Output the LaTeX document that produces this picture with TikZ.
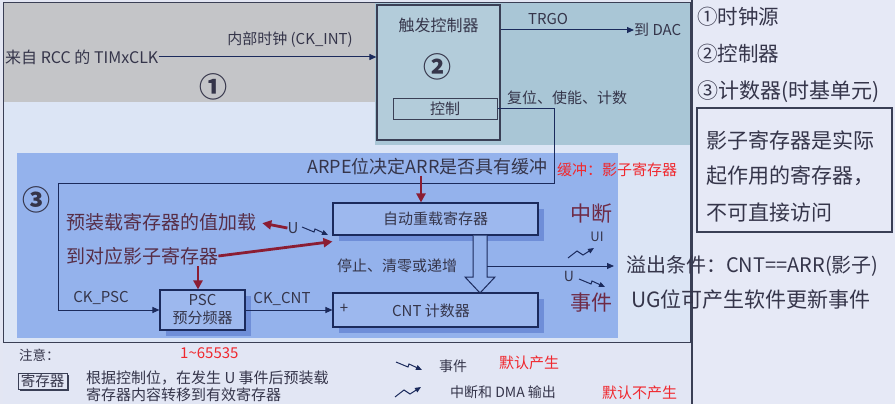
\documentclass[tikz,border=0pt]{standalone}
\usepackage{fontspec}
\setmainfont{Noto Sans CJK SC}
\usetikzlibrary{arrows.meta,shadows,calc}
\definecolor{bgc}{HTML}{E3E6F3}
\definecolor{rightbg}{HTML}{E6E9F6}
\definecolor{innerbg}{HTML}{DCE5F5}
\definecolor{grayband}{HTML}{C4C5C8}
\definecolor{tealc}{HTML}{A9C6D6}
\definecolor{trigfill}{HTML}{B3CCDA}
\definecolor{legendbg}{HTML}{E2E6F4}
\definecolor{panelc}{HTML}{94B2EC}
\definecolor{boxfill}{HTML}{9DB8EE}
\definecolor{shadowc}{HTML}{6F8ED8}
\definecolor{navy}{HTML}{1B2A5C}
\definecolor{txt}{HTML}{35354A}
\definecolor{maroon}{HTML}{8B1D33}
\definecolor{redt}{HTML}{F0282E}
\definecolor{brownt}{HTML}{6E2A45}
\definecolor{framec}{HTML}{3A3F55}
\newcommand\myfs[1]{\fontsize{#1}{#1}\selectfont}
\tikzset{
  lbl/.style={text=txt, inner sep=0pt, font=\myfs{#1}},
  lblw/.style={text=txt, inner sep=0pt, anchor=west, font=\myfs{#1}},
  redlbl/.style={text=redt, inner sep=0pt, anchor=west, font=\myfs{#1}},
  circnum/.style={text=txt, inner sep=0pt, font=\myfs{28}\bfseries},
  regbox/.style={draw=navy, line width=1.1pt, fill=boxfill, text=txt, font=\myfs{15},
     drop shadow={shadow xshift=6pt, shadow yshift=-6pt, fill=shadowc, opacity=1}},
  navyarrow/.style={draw=navy, line width=1pt, -{Triangle[length=7pt,width=6pt]}},
  redarrow/.style={draw=maroon, line width=2.8pt, -{Triangle[length=9pt,width=9pt]}},
  evsym/.pic={\draw[navy, line width=1pt, -{Triangle[length=6pt,width=5pt]}] (0,0) -- (12,5) -- (13,2) -- (26,8);},
  intsym/.pic={\draw[navy, line width=1pt, -{Triangle[length=6pt,width=5pt]}] (0,0) -- (9,-7) -- (15,-3) -- (26,-10);}
}
\begin{document}
\begin{tikzpicture}[x=1pt,y=-1pt]
\useasboundingbox (0,0) rectangle (895,404);
% backgrounds
\fill[bgc] (0,0) rectangle (895,404);
\fill[rightbg] (692,0) rectangle (895,404);
\fill[innerbg] (3,3) rectangle (690,342);
\fill[grayband] (3,3) rectangle (375,102);
\fill[tealc] (375,3) rectangle (690,145);
\fill[legendbg] (3,342) rectangle (692,404);
\draw[framec, line width=1pt] (3,3) rectangle (690,342);
\draw[framec, line width=1.6pt] (692,0) -- (692,404);
\fill[panelc] (17,153) rectangle (618,338);

% section 1
\node[lblw=16] (rcc) at (5,57) {来自 RCC 的 TIMxCLK};
\node[lbl=15] (ckint) at (290,40) {内部时钟 (CK\_INT)};
\node[circnum] (n1) at (213,87) {①};

% section 2
\node[draw=framec, line width=1.2pt, fill=trigfill, minimum width=123pt, minimum height=135pt, inner sep=0pt] (trig) at (438.5,72.5) {};
\node[lbl=16] (trigt) at (438.5,25) {触发控制器};
\node[circnum] (n2) at (437,67) {②};
\node[draw=framec, line width=1pt, minimum width=104pt, minimum height=20pt, inner sep=0pt, lbl=15] (ctrl) at (445,109) {控制};
\draw[navyarrow] (rcc.east) -- (rcc.east -| trig.west);
\coordinate (trgoy) at (0,30);
\node[lblw=15] (dac) at (634,30) {到 DAC};
\node[lbl=15] (trgo) at (548,19) {TRGO};
\draw[navyarrow] (trgoy -| trig.east) -- (dac.west);
\node[lblw=15] (rst) at (507,98) {复位、使能、计数};

% section 3
\node[circnum] (n3) at (37,200) {③};
\node[lbl=18] (arpe) at (427.5,167) {ARPE位决定ARR是否具有缓冲};
\node[redlbl=15] (buf) at (557,170) {缓冲：影子寄存器};
\node[regbox, minimum width=205pt, minimum height=32pt, inner sep=0pt] (arr) at (435.5,219) {自动重载寄存器};
\node[regbox, minimum width=205pt, minimum height=34pt, inner sep=0pt] (cnt) at (435.5,310) {};
\node[lbl=15] (plus) at (344,309) {+};
\node[lbl=15] (cntt) at (431,311) {CNT 计数器};
\node[regbox, minimum width=85pt, minimum height=40pt, inner sep=0pt, align=center, font=\fontsize{15}{18}\selectfont] (psc) at (202.5,310) {PSC\\预分频器};

\coordinate (c1) at (554,183);
\coordinate (c2) at (58,183);
\draw[navyarrow] (ctrl.east) -| (c1) -- (c2) |- (psc.west);
\node[lbl=15] (ckpsc) at (101,298) {CK\_PSC};
\draw[navyarrow] (psc.east) -- (psc.east -| cnt.west);
\node[lbl=15] (ckcnt) at (282,299) {CK\_CNT};

\node[lblw=19, text=brownt!60!txt] (pre1) at (66,222) {预装载寄存器的值加载};
\node[lblw=19, text=brownt!60!txt] (pre2) at (66,256) {到对应影子寄存器};
\node[lbl=15] (u1) at (293,228) {U};
\draw[redarrow, shorten >=6pt] (u1.west) -- (pre1.east);
\pic at (302,227) {evsym};
\draw[redarrow] (pre2.east) -- ($(arr.south west)+(0,6)$);
\coordinate (pd) at (198,266);
\draw[redarrow] (pd) -- (pd |- psc.north);
\coordinate (ad) at (421,0);
\draw[redarrow] (ad |- arpe.south) -- (ad |- arr.north);

% hollow double arrow
\coordinate (dl) at (473,0);
\coordinate (dr) at (487,0);
\draw[navy, line width=1pt, fill=panelc] (dl |- arr.south) -- (473,277) -- (465,277) -- (480,293) -- (495,277) -- (487,277) -- (dr |- arr.south);
\node[lbl=15] (stop) at (397,266) {停止、清零或递增};
\node[lblw=20] (ovf) at (626,266) {溢出条件：CNT==ARR(影子)};
\coordinate (ovs) at (487,266);
\draw[navyarrow, shorten >=12pt] (ovs) -- (ovf.west);
\node[lbl=21, text=brownt] (intr) at (591,214) {中断};
\node[lbl=13] (ui) at (597,237) {UI};
\pic at (568,258) {intsym};
\node[lbl=14] (u2) at (569,276) {U};
\pic at (579,279) {evsym};
\node[lbl=21, text=brownt] (evt) at (591,303) {事件};
\node[lblw=21] (ug) at (631,300) {UG位可产生软件更新事件};

% right panel
\node[lblw=20.5] (r1) at (697,17) {①时钟源};
\node[lblw=20.5] (r2) at (697,54) {②控制器};
\node[lblw=21] (r3) at (697,92) {③计数器(时基单元)};
\node[draw=framec, line width=1.3pt, minimum width=195pt, minimum height=124pt, inner sep=0pt] (shbox) at (794.5,170) {};
\node[lblw=21] (s1) at (706,140) {影子寄存器是实际};
\node[lblw=21] (s2) at (706,176) {起作用的寄存器，};
\node[lblw=21] (s3) at (706,213) {不可直接访问};

% legend
\node[lblw=13.5] (note) at (19,355) {注意：};
\node[redlbl=15] (range) at (180,353) {1\textasciitilde65535};
\node[draw=framec, line width=1pt, fill=legendbg, inner sep=0pt, minimum width=49pt, minimum height=16pt, lbl=14.5,
  drop shadow={shadow xshift=2pt, shadow yshift=-2pt, fill=framec, opacity=1}] (regk) at (42.5,381) {寄存器};
\node[lblw=15] (lg1) at (86,378) {根据控制位，在发生 U 事件后预装载};
\node[lblw=15] (lg2) at (86,395) {寄存器内容转移到有效寄存器};
\pic at (396,362) {evsym};
\node[lbl=14] (lev) at (453,366) {事件};
\node[redlbl=15] (d1) at (499,363) {默认产生};
\pic at (395,397) {intsym};
\node[lblw=14] (lint) at (450,392) {中断和 DMA 输出};
\node[redlbl=15] (d2) at (602,393) {默认不产生};
\end{tikzpicture}
\end{document}
